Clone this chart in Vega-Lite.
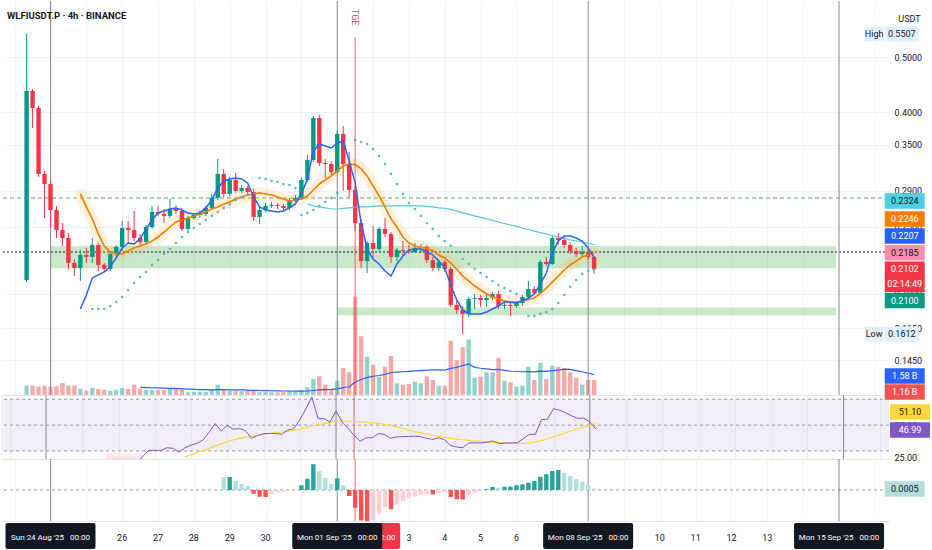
{
"$schema": "https://vega.github.io/schema/vega-lite/v6.json",
"background": "#ffffff",
"padding": 0,
"spacing": 0,
"bounds": "flush",
"config": {
  "view": {"stroke": null},
  "font": "Roboto",
  "text": {"font": "Roboto", "fontSize": 9},
  "axis": {"labelFont": "Roboto", "titleFont": "Roboto", "labelFontSize": 9, "labelColor": "#131722"},
  "axisX": {"grid": true, "gridColor": "#f0f3fa", "labels": false, "ticks": false, "domain": true, "domainColor": "#e0e3eb"},
  "axisY": {"grid": true, "gridColor": "#f0f3fa", "ticks": false, "domain": false, "labelAlign": "left", "labelPadding": 5, "labelOverlap": false, "labelFlush": false}
},
"resolve": {"scale": {"y": "independent", "color": "independent"}},
"datasets": {
  "bars": [
{"t":"2025-08-23T08:00Z","o":0.2012,"h":0.5507,"l":0.1995,"c":0.436,"v":0.72},
{"t":"2025-08-23T12:00Z","o":0.436,"h":0.4396,"l":0.3747,"c":0.4067,"v":0.72},
{"t":"2025-08-23T16:00Z","o":0.4067,"h":0.4101,"l":0.3067,"c":0.3105,"v":0.67},
{"t":"2025-08-23T20:00Z","o":0.3105,"h":0.3143,"l":0.2593,"c":0.298,"v":0.72},
{"t":"2025-08-24T00:00Z","o":0.298,"h":0.3017,"l":0.2489,"c":0.2679,"v":0.64},
{"t":"2025-08-24T04:00Z","o":0.2679,"h":0.2724,"l":0.2389,"c":0.2469,"v":0.67},
{"t":"2025-08-24T08:00Z","o":0.2469,"h":0.254,"l":0.2313,"c":0.2389,"v":0.93},
{"t":"2025-08-24T12:00Z","o":0.2389,"h":0.2439,"l":0.2105,"c":0.2157,"v":0.72},
{"t":"2025-08-24T16:00Z","o":0.2157,"h":0.2192,"l":0.2045,"c":0.2113,"v":0.72},
{"t":"2025-08-24T20:00Z","o":0.2113,"h":0.2275,"l":0.2004,"c":0.2229,"v":0.47,"bl":0.1787,"ora":0.2861},
{"t":"2025-08-25T00:00Z","o":0.2229,"h":0.2294,"l":0.2157,"c":0.2211,"v":0.33,"bl":0.1892,"ora":0.2713},
{"t":"2025-08-25T04:00Z","o":0.2211,"h":0.2389,"l":0.2157,"c":0.2322,"v":0.54,"bl":0.2029,"ora":0.2583,"sar":0.1787},
{"t":"2025-08-25T08:00Z","o":0.2322,"h":0.2341,"l":0.2087,"c":0.214,"v":0.47,"bl":0.2054,"ora":0.2429,"sar":0.1787},
{"t":"2025-08-25T12:00Z","o":0.214,"h":0.2157,"l":0.2079,"c":0.2105,"v":0.41,"bl":0.2079,"ora":0.2313,"sar":0.1787},
{"t":"2025-08-25T16:00Z","o":0.2105,"h":0.2265,"l":0.2087,"c":0.2238,"v":0.33,"bl":0.2122,"ora":0.2256,"sar":0.1809,"rsi":18},
{"t":"2025-08-25T20:00Z","o":0.2238,"h":0.2322,"l":0.2211,"c":0.2303,"v":0.41,"bl":0.2202,"ora":0.2238,"sar":0.1839,"rsi":19.5},
{"t":"2025-08-26T00:00Z","o":0.2303,"h":0.2561,"l":0.2265,"c":0.2489,"v":0.54,"bl":0.2294,"ora":0.2238,"sar":0.1877,"rsi":22},
{"t":"2025-08-26T04:00Z","o":0.2489,"h":0.2561,"l":0.2331,"c":0.2469,"v":0.47,"bl":0.2341,"ora":0.2265,"sar":0.1931,"rsi":21},
{"t":"2025-08-26T08:00Z","o":0.2469,"h":0.2668,"l":0.236,"c":0.2389,"v":0.8,"bl":0.2331,"ora":0.2294,"sar":0.1987,"rsi":20},
{"t":"2025-08-26T12:00Z","o":0.2389,"h":0.2429,"l":0.2313,"c":0.235,"v":0.47,"vm":0.59,"bl":0.238,"ora":0.2313,"sar":0.2037,"rsi":21},
{"t":"2025-08-26T16:00Z","o":0.235,"h":0.252,"l":0.2331,"c":0.2499,"v":0.39,"vm":0.57,"bl":0.2479,"ora":0.2331,"sar":0.2079,"rsi":25.6},
{"t":"2025-08-26T20:00Z","o":0.2499,"h":0.2724,"l":0.2479,"c":0.2657,"v":0.39,"vm":0.56,"bl":0.2572,"ora":0.236,"sar":0.214,"rsi":30.5},
{"t":"2025-08-27T00:00Z","o":0.2657,"h":0.2724,"l":0.2615,"c":0.2636,"v":0.39,"vm":0.55,"bl":0.2647,"ora":0.2399,"sar":0.2183,"rsi":30.5},
{"t":"2025-08-27T04:00Z","o":0.2636,"h":0.269,"l":0.254,"c":0.2615,"v":0.39,"vm":0.53,"bl":0.2668,"ora":0.2448,"sar":0.2238,"rsi":30.4},
{"t":"2025-08-27T08:00Z","o":0.2615,"h":0.2803,"l":0.2593,"c":0.269,"v":0.47,"vm":0.52,"bl":0.269,"ora":0.2499,"sar":0.2284,"rsi":32.5},
{"t":"2025-08-27T12:00Z","o":0.269,"h":0.2735,"l":0.2636,"c":0.2668,"v":0.47,"vm":0.51,"bl":0.2702,"ora":0.2551,"sar":0.2341,"rsi":32.1},
{"t":"2025-08-27T16:00Z","o":0.2668,"h":0.2702,"l":0.2458,"c":0.2479,"v":0.41,"vm":0.48,"bl":0.2679,"ora":0.2572,"sar":0.2399,"rsi":29.2},
{"t":"2025-08-27T20:00Z","o":0.2479,"h":0.2615,"l":0.2458,"c":0.2593,"v":0.21,"vm":0.46,"bl":0.2647,"ora":0.2593,"sar":0.2448,"rsi":32.5,"rm":25.5},
{"t":"2025-08-28T00:00Z","o":0.2593,"h":0.2647,"l":0.2572,"c":0.2625,"v":0.26,"vm":0.44,"bl":0.2636,"ora":0.2615,"sar":0.2489,"rsi":34.5,"rm":27},
{"t":"2025-08-28T04:00Z","o":0.2625,"h":0.2668,"l":0.2593,"c":0.2636,"v":0.26,"vm":0.42,"bl":0.2647,"ora":0.2636,"sar":0.253,"rsi":36,"rm":28.8},
{"t":"2025-08-28T08:00Z","o":0.2636,"h":0.2724,"l":0.2615,"c":0.2702,"v":0.26,"vm":0.41,"bl":0.2702,"ora":0.2657,"sar":0.2572,"rsi":38.5,"rm":30.4},
{"t":"2025-08-28T12:00Z","o":0.2702,"h":0.2861,"l":0.2679,"c":0.2815,"v":0.39,"vm":0.4,"bl":0.2791,"ora":0.269,"sar":0.2615,"rsi":44.5,"rm":32},
{"t":"2025-08-28T16:00Z","o":0.2815,"h":0.3301,"l":0.2791,"c":0.3105,"v":0.8,"vm":0.41,"bl":0.2932,"ora":0.2713,"sar":0.2657,"rsi":51.2,"rm":33.8},
{"t":"2025-08-28T20:00Z","o":0.3105,"h":0.3169,"l":0.2826,"c":0.2861,"v":0.39,"vm":0.41,"bl":0.3017,"ora":0.2746,"sar":0.2702,"rsi":45.5,"rm":35.5,"m":0.0052},
{"t":"2025-08-29T00:00Z","o":0.2861,"h":0.3067,"l":0.2838,"c":0.3029,"v":0.33,"vm":0.4,"bl":0.3042,"ora":0.2768,"sar":0.2746,"rsi":49.8,"rm":37.2,"m":0.0052},
{"t":"2025-08-29T04:00Z","o":0.3029,"h":0.3117,"l":0.2873,"c":0.2896,"v":0.33,"vm":0.4,"bl":0.3054,"ora":0.2803,"sar":0.2791,"rsi":46.8,"rm":38.5,"m":0.0036},
{"t":"2025-08-29T08:00Z","o":0.2896,"h":0.2968,"l":0.2873,"c":0.2932,"v":0.29,"vm":0.39,"bl":0.3042,"ora":0.2826,"sar":0.2826,"rsi":47.3,"rm":39.7,"m":0.0025},
{"t":"2025-08-29T12:00Z","o":0.2932,"h":0.2956,"l":0.2861,"c":0.2884,"v":0.33,"vm":0.38,"bl":0.2992,"ora":0.2849,"sar":0.2851,"rsi":45.8,"rm":40.5,"m":0.0016},
{"t":"2025-08-29T16:00Z","o":0.2884,"h":0.292,"l":0.2561,"c":0.2604,"v":0.33,"vm":0.36,"bl":0.2826,"ora":0.2861,"rsi":39.8,"rm":41.2,"m":-0.0015},
{"t":"2025-08-29T20:00Z","o":0.2604,"h":0.2713,"l":0.253,"c":0.2679,"v":0.21,"vm":0.35,"bl":0.2713,"ora":0.2873,"sar":0.3054,"rsi":42,"rm":42,"m":-0.0027},
{"t":"2025-08-30T00:00Z","o":0.2679,"h":0.2757,"l":0.2657,"c":0.2724,"v":0.21,"vm":0.34,"bl":0.2679,"ora":0.2861,"sar":0.3042,"rsi":43.3,"rm":42.8,"m":-0.0028},
{"t":"2025-08-30T04:00Z","o":0.2724,"h":0.2768,"l":0.2702,"c":0.2735,"v":0.21,"vm":0.33,"bl":0.2668,"ora":0.2849,"sar":0.3017,"rsi":43.6,"rm":43.5,"m":-0.0016},
{"t":"2025-08-30T08:00Z","o":0.2735,"h":0.2757,"l":0.269,"c":0.2724,"v":0.21,"vm":0.32,"bl":0.2657,"ora":0.2826,"sar":0.3004,"rsi":43.5,"rm":44.1,"m":-0.001},
{"t":"2025-08-30T12:00Z","o":0.2724,"h":0.2746,"l":0.2679,"c":0.2702,"v":0.21,"vm":0.31,"bl":0.2668,"ora":0.2803,"sar":0.298,"rsi":42.9,"rm":44.6,"m":-0.0006},
{"t":"2025-08-30T16:00Z","o":0.2702,"h":0.2815,"l":0.2679,"c":0.2791,"v":0.33,"vm":0.31,"bl":0.2702,"ora":0.2779,"sar":0.2968,"rsi":46.2,"rm":45.2,"m":-0.0003},
{"t":"2025-08-30T20:00Z","o":0.2791,"h":0.2849,"l":0.2768,"c":0.2815,"v":0.29,"vm":0.3,"bl":0.2746,"ora":0.2791,"sar":0.2932,"rsi":47.2,"rm":46,"m":-0.0001},
{"t":"2025-08-31T00:00Z","o":0.2815,"h":0.3067,"l":0.2791,"c":0.3029,"v":0.39,"vm":0.3,"bl":0.2861,"ora":0.2803,"sar":0.2625,"rsi":54,"rm":46.8,"m":0.0019},
{"t":"2025-08-31T04:00Z","o":0.3029,"h":0.3356,"l":0.3004,"c":0.3287,"v":0.6,"vm":0.31,"bl":0.3042,"ora":0.2838,"cy":0.2746,"sar":0.2647,"rsi":62.5,"rm":48,"m":0.0045},
{"t":"2025-08-31T08:00Z","o":0.3287,"h":0.3936,"l":0.3261,"c":0.3904,"v":1.24,"vm":0.35,"bl":0.3411,"ora":0.2908,"cy":0.2724,"sar":0.2679,"rsi":71.8,"rm":49.5,"m":0.0103},
{"t":"2025-08-31T12:00Z","o":0.3904,"h":0.3953,"l":0.3208,"c":0.3247,"v":1.45,"vm":0.4,"bl":0.351,"ora":0.298,"cy":0.2713,"sar":0.2724,"rsi":55.3,"rm":50.3,"m":0.0076},
{"t":"2025-08-31T16:00Z","o":0.3247,"h":0.3301,"l":0.3054,"c":0.3234,"v":0.8,"vm":0.42,"bl":0.3482,"ora":0.3029,"cy":0.2702,"sar":0.2768,"rsi":55,"rm":51.2,"m":0.0049},
{"t":"2025-08-31T20:00Z","o":0.3234,"h":0.3274,"l":0.308,"c":0.313,"v":0.47,"vm":0.43,"bl":0.3453,"ora":0.308,"cy":0.269,"sar":0.2815,"rsi":52.4,"rm":52,"m":0.0025},
{"t":"2025-09-01T00:00Z","o":0.313,"h":0.3701,"l":0.3105,"c":0.3657,"v":1.11,"vm":0.48,"bl":0.3524,"ora":0.3143,"cy":0.269,"sar":0.2873,"rsi":61,"rm":52.8,"m":0.0047},
{"t":"2025-09-01T04:00Z","o":0.3657,"h":0.3779,"l":0.2896,"c":0.3234,"v":2.09,"vm":0.57,"bl":0.3553,"ora":0.3208,"cy":0.2696,"rsi":52.5,"rm":53.2,"m":0.0019},
{"t":"2025-09-01T08:00Z","o":0.3234,"h":0.3397,"l":0.2815,"c":0.2908,"v":1.76,"vm":0.64,"bl":0.3274,"ora":0.3234,"cy":0.2702,"rsi":47.5,"rm":53.1,"m":-0.0024},
{"t":"2025-09-01T12:00Z","o":0.2908,"h":0.2956,"l":0.2458,"c":0.254,"v":7.62,"vm":0.99,"bl":0.2992,"ora":0.3227,"cy":0.2707,"sar":0.3568,"rsi":42,"rm":52.8,"m":-0.0071},
{"t":"2025-09-01T16:00Z","o":0.254,"h":0.2583,"l":0.2113,"c":0.2174,"v":4.55,"vm":1.2,"bl":0.254,"ora":0.3169,"cy":0.2713,"sar":0.3539,"rsi":37.5,"rm":52.5,"m":-0.0122},
{"t":"2025-09-01T20:00Z","o":0.2174,"h":0.236,"l":0.207,"c":0.2341,"v":2.97,"vm":1.34,"bl":0.2284,"ora":0.308,"cy":0.2713,"sar":0.351,"rsi":40.3,"rm":52.2,"m":-0.0124},
{"t":"2025-09-02T00:00Z","o":0.2341,"h":0.251,"l":0.2192,"c":0.2284,"v":2.35,"vm":1.45,"bl":0.2192,"ora":0.2956,"cy":0.2718,"sar":0.3439,"rsi":40.2,"rm":51.8,"m":-0.0121},
{"t":"2025-09-02T04:00Z","o":0.2284,"h":0.2499,"l":0.2265,"c":0.2479,"v":1.42,"vm":1.51,"bl":0.2148,"ora":0.2838,"cy":0.2724,"sar":0.3342,"rsi":43.4,"rm":51.3,"m":-0.0095},
{"t":"2025-09-02T08:00Z","o":0.2479,"h":0.2593,"l":0.2399,"c":0.2429,"v":2.19,"vm":1.6,"bl":0.2087,"ora":0.2713,"cy":0.2724,"sar":0.3234,"rsi":42.9,"rm":50.6,"m":-0.0068},
{"t":"2025-09-02T12:00Z","o":0.2429,"h":0.2448,"l":0.2157,"c":0.2211,"v":3.02,"vm":1.74,"bl":0.2045,"ora":0.2583,"cy":0.2724,"sar":0.3105,"rsi":39.8,"rm":49.8,"m":-0.0077},
{"t":"2025-09-02T16:00Z","o":0.2211,"h":0.2294,"l":0.2174,"c":0.2275,"v":0.91,"vm":1.77,"bl":0.2148,"ora":0.2499,"cy":0.2724,"sar":0.298,"rsi":40.9,"rm":48.6,"m":-0.0057},
{"t":"2025-09-02T20:00Z","o":0.2275,"h":0.236,"l":0.2211,"c":0.2265,"v":0.78,"vm":1.8,"bl":0.222,"ora":0.2399,"cy":0.2724,"sar":0.2861,"rsi":41.1,"rm":47.4,"m":-0.0044},
{"t":"2025-09-03T00:00Z","o":0.2265,"h":0.2322,"l":0.2238,"c":0.2256,"v":0.85,"vm":1.83,"bl":0.2275,"ora":0.2341,"cy":0.2724,"sar":0.2757,"rsi":41.2,"rm":46.2,"m":-0.0033},
{"t":"2025-09-03T04:00Z","o":0.2256,"h":0.2341,"l":0.2247,"c":0.2294,"v":1.03,"vm":1.86,"bl":0.2284,"ora":0.2313,"cy":0.2724,"sar":0.269,"rsi":41.4,"rm":45,"m":-0.0027},
{"t":"2025-09-03T08:00Z","o":0.2294,"h":0.2331,"l":0.2247,"c":0.2303,"v":0.91,"vm":1.89,"bl":0.2284,"ora":0.2298,"cy":0.2724,"sar":0.2615,"rsi":41.2,"rm":44,"m":-0.002},
{"t":"2025-09-03T12:00Z","o":0.2303,"h":0.2322,"l":0.2157,"c":0.2183,"v":1.45,"vm":1.93,"bl":0.2256,"ora":0.2289,"cy":0.2718,"sar":0.254,"rsi":39.8,"rm":43,"m":-0.0017},
{"t":"2025-09-03T16:00Z","o":0.2183,"h":0.2211,"l":0.2087,"c":0.2113,"v":1.16,"vm":1.95,"bl":0.2229,"ora":0.227,"cy":0.2713,"sar":0.2479,"rsi":39,"rm":42,"m":-0.0018},
{"t":"2025-09-03T20:00Z","o":0.2113,"h":0.2183,"l":0.2087,"c":0.2166,"v":0.72,"vm":1.94,"bl":0.2174,"ora":0.2229,"cy":0.2702,"sar":0.2409,"rsi":40.3,"rm":41.2,"m":-0.0013},
{"t":"2025-09-04T00:00Z","o":0.2166,"h":0.2183,"l":0.2079,"c":0.2105,"v":0.72,"vm":1.92,"bl":0.2113,"ora":0.2202,"cy":0.2696,"sar":0.236,"rsi":38.5,"rm":40.5,"m":-0.0009},
{"t":"2025-09-04T04:00Z","o":0.2105,"h":0.2122,"l":0.1802,"c":0.1817,"v":4.21,"vm":2.06,"bl":0.1971,"ora":0.2157,"cy":0.2685,"sar":0.2313,"rsi":34.2,"rm":39.8,"m":-0.0028},
{"t":"2025-09-04T08:00Z","o":0.1817,"h":0.1846,"l":0.1751,"c":0.178,"v":2.71,"vm":2.14,"bl":0.1854,"ora":0.2105,"cy":0.2668,"sar":0.2256,"rsi":33,"rm":39.2,"m":-0.0037},
{"t":"2025-09-04T12:00Z","o":0.178,"h":0.1809,"l":0.1612,"c":0.1751,"v":3.7,"vm":2.28,"bl":0.178,"ora":0.2045,"cy":0.2647,"sar":0.2192,"rsi":32.6,"rm":38.7,"m":-0.0038},
{"t":"2025-09-04T16:00Z","o":0.1751,"h":0.1877,"l":0.173,"c":0.1862,"v":4.29,"vm":2.4,"bl":0.1751,"ora":0.2004,"cy":0.2631,"sar":0.2148,"rsi":36.2,"rm":38.2,"m":-0.002},
{"t":"2025-09-04T20:00Z","o":0.1862,"h":0.19,"l":0.1787,"c":0.1869,"v":1.32,"vm":2.14,"bl":0.1751,"ora":0.1963,"cy":0.2615,"sar":0.2105,"rsi":36.3,"rm":37.8,"m":-0.0011},
{"t":"2025-09-05T00:00Z","o":0.1869,"h":0.1892,"l":0.1802,"c":0.1854,"v":1.42,"vm":2.07,"bl":0.1751,"ora":0.1931,"cy":0.2599,"sar":0.207,"rsi":36.2,"rm":37.4,"m":-0.0004},
{"t":"2025-09-05T04:00Z","o":0.1854,"h":0.1908,"l":0.1802,"c":0.1869,"v":1.76,"vm":2.02,"bl":0.1765,"ora":0.19,"cy":0.2583,"sar":0.2037,"rsi":36.8,"rm":37.1,"m":0.0003},
{"t":"2025-09-05T08:00Z","o":0.1869,"h":0.1915,"l":0.1854,"c":0.19,"v":1.76,"vm":1.97,"bl":0.1787,"ora":0.1877,"cy":0.2567,"sar":0.2004,"rsi":37.7,"rm":36.8,"m":0.0012},
{"t":"2025-09-05T12:00Z","o":0.19,"h":0.1923,"l":0.1787,"c":0.1809,"v":2.87,"vm":1.98,"bl":0.1809,"ora":0.1862,"cy":0.2551,"sar":0.1971,"rsi":35.8,"rm":36.5,"m":0.0009},
{"t":"2025-09-05T16:00Z","o":0.1809,"h":0.1839,"l":0.1787,"c":0.1817,"v":1.11,"vm":1.91,"bl":0.1839,"ora":0.1846,"cy":0.2535,"sar":0.1947,"rsi":36.1,"rm":36.3,"m":0.0013},
{"t":"2025-09-05T20:00Z","o":0.1817,"h":0.1839,"l":0.1737,"c":0.1809,"v":0.98,"vm":1.84,"bl":0.1839,"ora":0.1839,"cy":0.252,"sar":0.1923,"rsi":36.2,"rm":36,"m":0.0014},
{"t":"2025-09-06T00:00Z","o":0.1809,"h":0.1846,"l":0.1794,"c":0.1831,"v":0.64,"vm":1.82,"bl":0.1831,"ora":0.1839,"cy":0.2505,"sar":0.19,"rsi":36.4,"rm":35.9,"m":0.0019},
{"t":"2025-09-06T04:00Z","o":0.1831,"h":0.1892,"l":0.1809,"c":0.1877,"v":0.72,"vm":1.8,"bl":0.1846,"ora":0.1846,"cy":0.2489,"rsi":39.5,"rm":35.9,"m":0.0023},
{"t":"2025-09-06T08:00Z","o":0.1877,"h":0.2004,"l":0.1862,"c":0.1939,"v":2.19,"vm":1.81,"bl":0.1869,"ora":0.1858,"cy":0.2474,"sar":0.1737,"rsi":42.8,"rm":36.2,"m":0.0029},
{"t":"2025-09-06T12:00Z","o":0.1939,"h":0.1963,"l":0.1892,"c":0.1908,"v":1.16,"vm":1.79,"bl":0.19,"ora":0.1869,"cy":0.2458,"sar":0.1737,"rsi":42.9,"rm":36.8,"m":0.0036},
{"t":"2025-09-06T16:00Z","o":0.1908,"h":0.2183,"l":0.19,"c":0.2166,"v":2.48,"vm":1.85,"bl":0.1979,"ora":0.1904,"cy":0.2443,"sar":0.1751,"rsi":54.3,"rm":38,"m":0.0053},
{"t":"2025-09-06T20:00Z","o":0.2166,"h":0.2211,"l":0.2131,"c":0.2148,"v":1.24,"vm":1.83,"bl":0.207,"ora":0.1947,"cy":0.2429,"sar":0.1765,"rsi":54.6,"rm":39.5,"m":0.0063},
{"t":"2025-09-07T00:00Z","o":0.2148,"h":0.2409,"l":0.214,"c":0.2389,"v":2.27,"vm":1.88,"bl":0.2247,"ora":0.1995,"cy":0.2414,"sar":0.1787,"rsi":62.7,"rm":41,"m":0.0076},
{"t":"2025-09-07T04:00Z","o":0.2389,"h":0.2439,"l":0.2322,"c":0.237,"v":2.19,"vm":1.92,"bl":0.236,"ora":0.2045,"cy":0.2399,"sar":0.1831,"rsi":61.6,"rm":42.5,"m":0.008},
{"t":"2025-09-07T08:00Z","o":0.237,"h":0.2409,"l":0.2294,"c":0.2322,"v":2.09,"vm":2,"bl":0.2409,"ora":0.2096,"cy":0.2385,"sar":0.1892,"rsi":59.5,"rm":44,"m":0.0069},
{"t":"2025-09-07T12:00Z","o":0.2322,"h":0.235,"l":0.2238,"c":0.2265,"v":1.76,"vm":1.98,"bl":0.2409,"ora":0.214,"cy":0.237,"sar":0.1955,"rsi":57.2,"rm":45.5,"m":0.0056},
{"t":"2025-09-07T16:00Z","o":0.2265,"h":0.2294,"l":0.2211,"c":0.2238,"v":1.32,"vm":1.89,"bl":0.2389,"ora":0.2174,"cy":0.236,"sar":0.2012,"rsi":55.3,"rm":47,"m":0.0043},
{"t":"2025-09-07T20:00Z","o":0.2238,"h":0.2313,"l":0.222,"c":0.2256,"v":0.8,"vm":1.8,"bl":0.236,"ora":0.2211,"cy":0.235,"sar":0.2062,"rsi":55.4,"rm":48.5,"m":0.0033},
{"t":"2025-09-08T00:00Z","o":0.2256,"h":0.2275,"l":0.2183,"c":0.2211,"v":1.16,"vm":1.7,"bl":0.2294,"ora":0.2229,"cy":0.2341,"sar":0.2087,"rsi":52.5,"rm":49.8,"m":0.002},
{"t":"2025-09-08T04:00Z","o":0.2211,"h":0.222,"l":0.2062,"c":0.2102,"v":1.16,"vm":1.58,"bl":0.2207,"ora":0.2246,"cy":0.2324,"sar":0.21,"rsi":46.99,"rm":51.1,"m":0.0005}
  ],
  "zones": [
    {"t": "2025-08-24T00:00Z", "t2": "2025-09-14T22:00Z", "lo": 0.211, "hi": 0.2312},
    {"t": "2025-09-01T00:00Z", "t2": "2025-09-14T22:00Z", "lo": 0.1742, "hi": 0.1797}
  ],
  "levels": [
    {"name": "res", "p": 0.2814},
    {"name": "pivot", "p": 0.2256}
  ],
  "vlines": [
    {"t": "2025-08-24T00:00Z", "lab": "Sun 24 Aug '25\u00a0\u00a0\u00a000:00"},
    {"t": "2025-09-01T00:00Z", "lab": "Mon 01 Sep '25\u00a0\u00a0\u00a000:00"},
    {"t": "2025-09-08T00:00Z", "lab": "Mon 08 Sep '25\u00a0\u00a0\u00a000:00"},
    {"t": "2025-09-15T00:00Z", "lab": "Mon 15 Sep '25\u00a0\u00a0\u00a000:00"}
  ],
  "tge": [
    {"t": "2025-09-01T12:00Z", "name": "TGE", "lab": "Mon 01 Sep '25\u00a0\u00a0\u00a012:00"}
  ],
  "days": [
    {"t":"2025-08-26T00:00Z","d":"26"},{"t":"2025-08-27T00:00Z","d":"27"},{"t":"2025-08-28T00:00Z","d":"28"},
    {"t":"2025-08-29T00:00Z","d":"29"},{"t":"2025-08-30T00:00Z","d":"30"},
    {"t":"2025-09-03T00:00Z","d":"3"},{"t":"2025-09-04T00:00Z","d":"4"},{"t":"2025-09-05T00:00Z","d":"5"},
    {"t":"2025-09-06T00:00Z","d":"6"},
    {"t":"2025-09-10T00:00Z","d":"10"},{"t":"2025-09-11T00:00Z","d":"11"},{"t":"2025-09-12T00:00Z","d":"12"},
    {"t":"2025-09-13T00:00Z","d":"13"}
  ],
  "ptags": [
    {"s": "ma200", "txt": "0.2324", "at": 0.2779},
    {"s": "ema", "txt": "0.2246", "at": 0.2583},
    {"s": "fast", "txt": "0.2207", "at": 0.2409},
    {"s": "prev", "txt": "0.2185", "at": 0.225},
    {"s": "last", "txt": "0.2102", "at": 0.2102},
    {"s": "last", "txt": "02:14:49", "at": 0.1977},
    {"s": "sar", "txt": "0.2100", "at": 0.185}
  ],
  "hl": [
    {"name": "High", "price": 0.5507},
    {"name": "Low", "price": 0.1612}
  ],
  "vtags": [
    {"s": "vma", "txt": "1.58 B", "at": 1.47},
    {"s": "vol", "txt": "1.16 B", "at": 0.23}
  ],
  "rtags": [
    {"s": "rsima", "txt": "51.10", "at": 60.2},
    {"s": "rsi", "txt": "46.99", "at": 46.3}
  ],
  "mtags": [
    {"s": "macd", "txt": "0.0005", "at": 0.0004}
  ],
  "rsilv": [{"lvl": 70}, {"lvl": 50}, {"lvl": 30}]
},
"vconcat": [
{
  "width": 888, "height": 394,
  "title": {"text": "WLFIUSDT.P · 4h · BINANCE", "anchor": "start", "frame": "group", "offset": -20, "dx": 6, "fontSize": 9.5, "fontWeight": "bold", "color": "#131722", "font": "Roboto"},
  "resolve": {"scale": {"y": "independent"}},
  "layer": [
    {"layer": [
      {"data": {"name": "bars"},
       "mark": {"type": "bar", "size": 4.4},
       "encoding": {
         "x": {"field": "t", "type": "temporal", "scale": {"type": "utc", "domain": [{"year":2025,"month":8,"date":22,"hours":18,"minutes":12,"utc":true},{"year":2025,"month":9,"date":16,"hours":6,"minutes":7,"utc":true}]}},
         "y": {"field": "v", "type": "quantitative", "scale": {"domain": [0, 30.5], "nice": false}, "axis": null},
         "color": {"condition": {"test": "datum.c >= datum.o", "value": "rgba(38,166,154,0.5)"}, "value": "rgba(239,83,80,0.5)"}
       }},
      {"data": {"name": "bars"},
       "mark": {"type": "line", "color": "#2962ff", "strokeWidth": 1.2},
       "encoding": {
         "x": {"field": "t", "type": "temporal", "scale": {"type": "utc", "domain": [{"year":2025,"month":8,"date":22,"hours":18,"minutes":12,"utc":true},{"year":2025,"month":9,"date":16,"hours":6,"minutes":7,"utc":true}]}},
         "y": {"field": "vm", "type": "quantitative", "scale": {"domain": [0, 30.5], "nice": false}, "axis": null}
       }},
      {"data": {"name": "vtags"},
       "mark": {"type": "tick", "orient": "horizontal", "size": 40, "thickness": 15.5, "opacity": 1},
       "encoding": {
         "x": {"datum": {"year":2025,"month":9,"date":16,"hours":20,"utc":true}, "type": "temporal", "scale": {"type": "utc", "domain": [{"year":2025,"month":8,"date":22,"hours":18,"minutes":12,"utc":true},{"year":2025,"month":9,"date":16,"hours":6,"minutes":7,"utc":true}]}},
         "y": {"field": "at", "type": "quantitative", "scale": {"domain": [0, 30.5], "nice": false}, "axis": null},
         "color": {"field": "s", "type": "nominal", "legend": null, "scale": {"domain": ["ma200","ema","fast","prev","last","sar","vma","vol","rsima","rsi","macd"], "range": ["#4dd0e1","#f57c00","#2962ff","#f48fb1","#f23645","#089981","#2962ff","#ef5350","#fdd835","#7e57c2","#b2dfdb"]}}
       }},
      {"data": {"name": "vtags"},
       "mark": {"type": "text", "fontSize": 9},
       "encoding": {
         "x": {"datum": {"year":2025,"month":9,"date":16,"hours":20,"utc":true}, "type": "temporal", "scale": {"type": "utc", "domain": [{"year":2025,"month":8,"date":22,"hours":18,"minutes":12,"utc":true},{"year":2025,"month":9,"date":16,"hours":6,"minutes":7,"utc":true}]}},
         "y": {"field": "at", "type": "quantitative", "scale": {"domain": [0, 30.5], "nice": false}, "axis": null},
         "text": {"field": "txt", "type": "nominal"},
         "color": {"condition": {"test": "indexof(['ma200','prev','rsima','macd'], datum.s) >= 0", "value": "#131722"}, "value": "#ffffff"}
       }}
    ]},
    {"layer": [
      {"data": {"name": "zones"},
       "mark": {"type": "rect", "color": "#4caf50", "opacity": 0.3},
       "encoding": {
         "x": {"field": "t", "type": "temporal", "title": null, "scale": {"type": "utc", "domain": [{"year":2025,"month":8,"date":22,"hours":18,"minutes":12,"utc":true},{"year":2025,"month":9,"date":16,"hours":6,"minutes":7,"utc":true}]}, "axis": {"tickCount": {"interval": "day", "step": 1}, "grid": true, "labels": false, "ticks": false, "domain": true}},
         "x2": {"field": "t2"},
         "y": {"field": "lo", "type": "quantitative", "scale": {"type": "log", "domain": [0.12568, 0.63], "nice": false},
               "axis": {"orient": "right", "grid": true, "values": [0.145, 0.165, 0.19, 0.25, 0.29, 0.35, 0.4, 0.5], "format": ".4f", "title": "USDT", "titleAngle": 0, "titleX": 20, "titleY": 17, "titleAlign": "center", "titleBaseline": "middle", "titleFontSize": 9, "titleFontWeight": "normal", "titleColor": "#131722"}},
         "y2": {"field": "hi"}
       }},
      {"data": {"name": "levels"},
       "transform": [{"filter": "datum.name == 'res'"}],
       "mark": {"type": "rule", "color": "#4caf50", "strokeDash": [4, 3], "strokeWidth": 1},
       "encoding": {"y": {"field": "p", "type": "quantitative", "scale": {"type": "log", "domain": [0.12568, 0.63], "nice": false}}}},
      {"data": {"name": "levels"},
       "transform": [{"filter": "datum.name == 'pivot'"}],
       "mark": {"type": "rule", "color": "#131722", "strokeDash": [2, 2], "strokeWidth": 1.2},
       "encoding": {"y": {"field": "p", "type": "quantitative", "scale": {"type": "log", "domain": [0.12568, 0.63], "nice": false}}}},
      {"data": {"name": "vlines"},
       "mark": {"type": "rule", "color": "#8a8d96", "strokeWidth": 1},
       "encoding": {"x": {"field": "t", "type": "temporal", "scale": {"type": "utc", "domain": [{"year":2025,"month":8,"date":22,"hours":18,"minutes":12,"utc":true},{"year":2025,"month":9,"date":16,"hours":6,"minutes":7,"utc":true}]}}}},
      {"data": {"name": "bars"},
       "mark": {"type": "line", "color": "#ffb74d", "strokeWidth": 12, "opacity": 0.2, "strokeCap": "round", "strokeJoin": "round"},
       "encoding": {
         "x": {"field": "t", "type": "temporal", "scale": {"type": "utc", "domain": [{"year":2025,"month":8,"date":22,"hours":18,"minutes":12,"utc":true},{"year":2025,"month":9,"date":16,"hours":6,"minutes":7,"utc":true}]}},
         "y": {"field": "ora", "type": "quantitative", "scale": {"type": "log", "domain": [0.12568, 0.63], "nice": false}}
       }},
      {"data": {"name": "bars"},
       "mark": {"type": "rule", "strokeWidth": 1},
       "encoding": {
         "x": {"field": "t", "type": "temporal", "scale": {"type": "utc", "domain": [{"year":2025,"month":8,"date":22,"hours":18,"minutes":12,"utc":true},{"year":2025,"month":9,"date":16,"hours":6,"minutes":7,"utc":true}]}},
         "y": {"field": "l", "type": "quantitative", "scale": {"type": "log", "domain": [0.12568, 0.63], "nice": false}},
         "y2": {"field": "h"},
         "color": {"condition": {"test": "datum.c >= datum.o", "value": "#089981"}, "value": "#f23645"}
       }},
      {"data": {"name": "bars"},
       "mark": {"type": "bar", "size": 4.4},
       "encoding": {
         "x": {"field": "t", "type": "temporal", "scale": {"type": "utc", "domain": [{"year":2025,"month":8,"date":22,"hours":18,"minutes":12,"utc":true},{"year":2025,"month":9,"date":16,"hours":6,"minutes":7,"utc":true}]}},
         "y": {"field": "o", "type": "quantitative", "scale": {"type": "log", "domain": [0.12568, 0.63], "nice": false}},
         "y2": {"field": "c"},
         "color": {"condition": {"test": "datum.c >= datum.o", "value": "#089981"}, "value": "#f23645"}
       }},
      {"data": {"name": "bars"},
       "mark": {"type": "line", "color": "#56c5dd", "strokeWidth": 1.2},
       "encoding": {
         "x": {"field": "t", "type": "temporal", "scale": {"type": "utc", "domain": [{"year":2025,"month":8,"date":22,"hours":18,"minutes":12,"utc":true},{"year":2025,"month":9,"date":16,"hours":6,"minutes":7,"utc":true}]}},
         "y": {"field": "cy", "type": "quantitative", "scale": {"type": "log", "domain": [0.12568, 0.63], "nice": false}}
       }},
      {"data": {"name": "bars"},
       "mark": {"type": "line", "color": "#f57c00", "strokeWidth": 1.6},
       "encoding": {
         "x": {"field": "t", "type": "temporal", "scale": {"type": "utc", "domain": [{"year":2025,"month":8,"date":22,"hours":18,"minutes":12,"utc":true},{"year":2025,"month":9,"date":16,"hours":6,"minutes":7,"utc":true}]}},
         "y": {"field": "ora", "type": "quantitative", "scale": {"type": "log", "domain": [0.12568, 0.63], "nice": false}}
       }},
      {"data": {"name": "bars"},
       "mark": {"type": "line", "color": "#2962ff", "strokeWidth": 1.5},
       "encoding": {
         "x": {"field": "t", "type": "temporal", "scale": {"type": "utc", "domain": [{"year":2025,"month":8,"date":22,"hours":18,"minutes":12,"utc":true},{"year":2025,"month":9,"date":16,"hours":6,"minutes":7,"utc":true}]}},
         "y": {"field": "bl", "type": "quantitative", "scale": {"type": "log", "domain": [0.12568, 0.63], "nice": false}}
       }},
      {"data": {"name": "bars"},
       "mark": {"type": "circle", "size": 7, "color": "#4db6ac", "opacity": 0.9},
       "encoding": {
         "x": {"field": "t", "type": "temporal", "scale": {"type": "utc", "domain": [{"year":2025,"month":8,"date":22,"hours":18,"minutes":12,"utc":true},{"year":2025,"month":9,"date":16,"hours":6,"minutes":7,"utc":true}]}},
         "y": {"field": "sar", "type": "quantitative", "scale": {"type": "log", "domain": [0.12568, 0.63], "nice": false}}
       }},
      {"data": {"name": "tge"},
       "mark": {"type": "rule", "color": "#f23645", "opacity": 0.5, "strokeWidth": 1.5},
       "encoding": {
         "x": {"field": "t", "type": "temporal", "scale": {"type": "utc", "domain": [{"year":2025,"month":8,"date":22,"hours":18,"minutes":12,"utc":true},{"year":2025,"month":9,"date":16,"hours":6,"minutes":7,"utc":true}]}},
         "y": {"datum": 0.5437, "type": "quantitative", "scale": {"type": "log", "domain": [0.12568, 0.63], "nice": false}},
         "y2": {"datum": 0.12568}
       }},
      {"data": {"name": "tge"},
       "mark": {"type": "text", "angle": 90, "align": "left", "baseline": "middle", "color": "#f23645", "fontSize": 9},
       "encoding": {
         "x": {"field": "t", "type": "temporal", "scale": {"type": "utc", "domain": [{"year":2025,"month":8,"date":22,"hours":18,"minutes":12,"utc":true},{"year":2025,"month":9,"date":16,"hours":6,"minutes":7,"utc":true}]}},
         "y": {"datum": 0.61, "type": "quantitative", "scale": {"type": "log", "domain": [0.12568, 0.63], "nice": false}},
         "text": {"field": "name", "type": "nominal"}
       }},
      {"data": {"name": "ptags"},
       "mark": {"type": "tick", "orient": "horizontal", "size": 40, "thickness": 15.5, "opacity": 1},
       "encoding": {
         "x": {"datum": {"year":2025,"month":9,"date":16,"hours":20,"utc":true}, "type": "temporal", "scale": {"type": "utc", "domain": [{"year":2025,"month":8,"date":22,"hours":18,"minutes":12,"utc":true},{"year":2025,"month":9,"date":16,"hours":6,"minutes":7,"utc":true}]}},
         "y": {"field": "at", "type": "quantitative", "scale": {"type": "log", "domain": [0.12568, 0.63], "nice": false}},
         "color": {"field": "s", "type": "nominal", "legend": null, "scale": {"domain": ["ma200","ema","fast","prev","last","sar","vma","vol","rsima","rsi","macd"], "range": ["#4dd0e1","#f57c00","#2962ff","#f48fb1","#f23645","#089981","#2962ff","#ef5350","#fdd835","#7e57c2","#b2dfdb"]}}
       }},
      {"data": {"name": "ptags"},
       "mark": {"type": "text", "fontSize": 9},
       "encoding": {
         "x": {"datum": {"year":2025,"month":9,"date":16,"hours":20,"utc":true}, "type": "temporal", "scale": {"type": "utc", "domain": [{"year":2025,"month":8,"date":22,"hours":18,"minutes":12,"utc":true},{"year":2025,"month":9,"date":16,"hours":6,"minutes":7,"utc":true}]}},
         "y": {"field": "at", "type": "quantitative", "scale": {"type": "log", "domain": [0.12568, 0.63], "nice": false}},
         "text": {"field": "txt", "type": "nominal"},
         "color": {"condition": {"test": "indexof(['ma200','prev','rsima','macd'], datum.s) >= 0", "value": "#131722"}, "value": "#ffffff"}
       }},
      {"data": {"name": "hl"},
       "mark": {"type": "tick", "orient": "horizontal", "size": 19, "thickness": 15, "opacity": 1, "color": "#e3effd"},
       "encoding": {
         "x": {"datum": {"year":2025,"month":9,"date":15,"hours":23,"minutes":30,"utc":true}, "type": "temporal", "scale": {"type": "utc", "domain": [{"year":2025,"month":8,"date":22,"hours":18,"minutes":12,"utc":true},{"year":2025,"month":9,"date":16,"hours":6,"minutes":7,"utc":true}]}},
         "y": {"field": "price", "type": "quantitative", "scale": {"type": "log", "domain": [0.12568, 0.63], "nice": false}}
       }},
      {"data": {"name": "hl"},
       "mark": {"type": "text", "fontSize": 9, "color": "#131722"},
       "encoding": {
         "x": {"datum": {"year":2025,"month":9,"date":15,"hours":23,"minutes":30,"utc":true}, "type": "temporal", "scale": {"type": "utc", "domain": [{"year":2025,"month":8,"date":22,"hours":18,"minutes":12,"utc":true},{"year":2025,"month":9,"date":16,"hours":6,"minutes":7,"utc":true}]}},
         "y": {"field": "price", "type": "quantitative", "scale": {"type": "log", "domain": [0.12568, 0.63], "nice": false}},
         "text": {"field": "name", "type": "nominal"}
       }},
      {"data": {"name": "hl"},
       "mark": {"type": "tick", "orient": "horizontal", "size": 34, "thickness": 15, "opacity": 1, "color": "#e3effd"},
       "encoding": {
         "x": {"datum": {"year":2025,"month":9,"date":16,"hours":18,"utc":true}, "type": "temporal", "scale": {"type": "utc", "domain": [{"year":2025,"month":8,"date":22,"hours":18,"minutes":12,"utc":true},{"year":2025,"month":9,"date":16,"hours":6,"minutes":7,"utc":true}]}},
         "y": {"field": "price", "type": "quantitative", "scale": {"type": "log", "domain": [0.12568, 0.63], "nice": false}}
       }},
      {"data": {"name": "hl"},
       "mark": {"type": "text", "fontSize": 9, "color": "#131722"},
       "encoding": {
         "x": {"datum": {"year":2025,"month":9,"date":16,"hours":18,"utc":true}, "type": "temporal", "scale": {"type": "utc", "domain": [{"year":2025,"month":8,"date":22,"hours":18,"minutes":12,"utc":true},{"year":2025,"month":9,"date":16,"hours":6,"minutes":7,"utc":true}]}},
         "y": {"field": "price", "type": "quantitative", "scale": {"type": "log", "domain": [0.12568, 0.63], "nice": false}},
         "text": {"field": "price", "type": "quantitative", "format": ".4f"}
       }}
    ]}
  ]
},
{
  "width": 888, "height": 64,
  "layer": [
    {"data": {"values": [{}]},
     "mark": {"type": "rect", "color": "#7e57c2", "opacity": 0.1},
     "encoding": {
       "x": {"datum": {"year":2025,"month":8,"date":22,"hours":18,"minutes":12,"utc":true}, "type": "temporal", "scale": {"type": "utc", "domain": [{"year":2025,"month":8,"date":22,"hours":18,"minutes":12,"utc":true},{"year":2025,"month":9,"date":16,"hours":6,"minutes":7,"utc":true}]}},
       "x2": {"datum": {"year":2025,"month":9,"date":16,"hours":6,"minutes":7,"utc":true}},
       "y": {"datum": 70, "type": "quantitative", "scale": {"domain": [23.8, 73.3], "nice": false, "zero": false}},
       "y2": {"datum": 30}
     }},
    {"data": {"name": "rsilv"},
     "mark": {"type": "rule", "color": "#9598a1", "strokeDash": [3, 3], "strokeWidth": 1},
     "encoding": {"y": {"field": "lvl", "type": "quantitative", "scale": {"domain": [23.8, 73.3], "nice": false, "zero": false}}}},
    {"data": {"name": "vlines"},
     "mark": {"type": "rule", "color": "#8a8d96", "strokeWidth": 1},
     "encoding": {"x": {"field": "t", "type": "temporal", "scale": {"type": "utc", "domain": [{"year":2025,"month":8,"date":22,"hours":18,"minutes":12,"utc":true},{"year":2025,"month":9,"date":16,"hours":6,"minutes":7,"utc":true}]}}}},
    {"data": {"name": "tge"},
     "mark": {"type": "rule", "color": "#f23645", "opacity": 0.5, "strokeWidth": 1.5},
     "encoding": {"x": {"field": "t", "type": "temporal", "scale": {"type": "utc", "domain": [{"year":2025,"month":8,"date":22,"hours":18,"minutes":12,"utc":true},{"year":2025,"month":9,"date":16,"hours":6,"minutes":7,"utc":true}]}}}},
    {"data": {"name": "bars"},
     "transform": [{"filter": "isValid(datum.rsi) && datum.rsi < 28"}],
     "mark": {"type": "area", "clip": true, "color": {"gradient": "linear", "x1": 0, "y1": 0, "x2": 0, "y2": 1, "stops": [{"offset": 0, "color": "rgba(242,54,69,0)"}, {"offset": 1, "color": "rgba(242,54,69,0.35)"}]}},
     "encoding": {
       "x": {"field": "t", "type": "temporal", "scale": {"type": "utc", "domain": [{"year":2025,"month":8,"date":22,"hours":18,"minutes":12,"utc":true},{"year":2025,"month":9,"date":16,"hours":6,"minutes":7,"utc":true}]}},
       "y": {"field": "rsi", "type": "quantitative", "scale": {"domain": [23.8, 73.3], "nice": false, "zero": false}},
       "y2": {"datum": 30}
     }},
    {"data": {"name": "bars"},
     "mark": {"type": "line", "color": "#fdd835", "strokeWidth": 1.2, "clip": true},
     "encoding": {
       "x": {"field": "t", "type": "temporal", "scale": {"type": "utc", "domain": [{"year":2025,"month":8,"date":22,"hours":18,"minutes":12,"utc":true},{"year":2025,"month":9,"date":16,"hours":6,"minutes":7,"utc":true}]}},
       "y": {"field": "rm", "type": "quantitative", "scale": {"domain": [23.8, 73.3], "nice": false, "zero": false}}
     }},
    {"data": {"name": "bars"},
     "mark": {"type": "line", "color": "#7e57c2", "strokeWidth": 1, "clip": true},
     "encoding": {
       "x": {"field": "t", "type": "temporal", "title": null, "scale": {"type": "utc", "domain": [{"year":2025,"month":8,"date":22,"hours":18,"minutes":12,"utc":true},{"year":2025,"month":9,"date":16,"hours":6,"minutes":7,"utc":true}]}, "axis": {"tickCount": {"interval": "day", "step": 1}, "grid": true, "labels": false, "ticks": false, "domain": true}},
       "y": {"field": "rsi", "type": "quantitative", "title": null, "scale": {"domain": [23.8, 73.3], "nice": false, "zero": false}, "axis": {"orient": "right", "values": [25, 50], "format": ".2f", "grid": false}}
     }},
    {"data": {"name": "rtags"},
     "mark": {"type": "tick", "orient": "horizontal", "size": 40, "thickness": 15.5, "opacity": 1},
     "encoding": {
       "x": {"datum": {"year":2025,"month":9,"date":16,"hours":20,"utc":true}, "type": "temporal", "scale": {"type": "utc", "domain": [{"year":2025,"month":8,"date":22,"hours":18,"minutes":12,"utc":true},{"year":2025,"month":9,"date":16,"hours":6,"minutes":7,"utc":true}]}},
       "y": {"field": "at", "type": "quantitative", "scale": {"domain": [23.8, 73.3], "nice": false, "zero": false}},
       "color": {"field": "s", "type": "nominal", "legend": null, "scale": {"domain": ["ma200","ema","fast","prev","last","sar","vma","vol","rsima","rsi","macd"], "range": ["#4dd0e1","#f57c00","#2962ff","#f48fb1","#f23645","#089981","#2962ff","#ef5350","#fdd835","#7e57c2","#b2dfdb"]}}
     }},
    {"data": {"name": "rtags"},
     "mark": {"type": "text", "fontSize": 9},
     "encoding": {
       "x": {"datum": {"year":2025,"month":9,"date":16,"hours":20,"utc":true}, "type": "temporal", "scale": {"type": "utc", "domain": [{"year":2025,"month":8,"date":22,"hours":18,"minutes":12,"utc":true},{"year":2025,"month":9,"date":16,"hours":6,"minutes":7,"utc":true}]}},
       "y": {"field": "at", "type": "quantitative", "scale": {"domain": [23.8, 73.3], "nice": false, "zero": false}},
       "text": {"field": "txt", "type": "nominal"},
       "color": {"condition": {"test": "indexof(['ma200','prev','rsima','macd'], datum.s) >= 0", "value": "#131722"}, "value": "#ffffff"}
     }}
  ]
},
{
  "width": 888, "height": 62,
  "layer": [
    {"data": {"values": [{}]},
     "mark": {"type": "rule", "color": "#9598a1", "strokeDash": [3, 3], "strokeWidth": 1},
     "encoding": {"y": {"datum": 0, "type": "quantitative", "scale": {"domain": [-0.0124, 0.0124], "nice": false}, "axis": null}}},
    {"data": {"name": "vlines"},
     "mark": {"type": "rule", "color": "#8a8d96", "strokeWidth": 1},
     "encoding": {"x": {"field": "t", "type": "temporal", "scale": {"type": "utc", "domain": [{"year":2025,"month":8,"date":22,"hours":18,"minutes":12,"utc":true},{"year":2025,"month":9,"date":16,"hours":6,"minutes":7,"utc":true}]}}}},
    {"data": {"name": "tge"},
     "mark": {"type": "rule", "color": "#f23645", "opacity": 0.5, "strokeWidth": 1.5},
     "encoding": {"x": {"field": "t", "type": "temporal", "scale": {"type": "utc", "domain": [{"year":2025,"month":8,"date":22,"hours":18,"minutes":12,"utc":true},{"year":2025,"month":9,"date":16,"hours":6,"minutes":7,"utc":true}]}}}},
    {"data": {"name": "bars"},
     "transform": [
       {"filter": "isValid(datum.m)"},
       {"window": [{"op": "lag", "field": "m", "as": "pm"}], "sort": [{"field": "t"}]}
     ],
     "mark": {"type": "bar", "size": 4.4},
     "encoding": {
       "x": {"field": "t", "type": "temporal", "title": null, "scale": {"type": "utc", "domain": [{"year":2025,"month":8,"date":22,"hours":18,"minutes":12,"utc":true},{"year":2025,"month":9,"date":16,"hours":6,"minutes":7,"utc":true}]}, "axis": {"tickCount": {"interval": "day", "step": 1}, "grid": true, "labels": false, "ticks": false, "domain": true}},
       "y": {"field": "m", "type": "quantitative", "scale": {"domain": [-0.0124, 0.0124], "nice": false}, "axis": null},
       "color": {"condition": [
         {"test": "datum.m >= 0 && isValid(datum.pm) && datum.m >= datum.pm", "value": "#26a69a"},
         {"test": "datum.m >= 0", "value": "#b2dfdb"},
         {"test": "isValid(datum.pm) && datum.m < datum.pm", "value": "#ff5252"}
       ], "value": "#ffcdd2"}
     }},
    {"data": {"name": "mtags"},
     "mark": {"type": "tick", "orient": "horizontal", "size": 40, "thickness": 15.5, "opacity": 1},
     "encoding": {
       "x": {"datum": {"year":2025,"month":9,"date":16,"hours":20,"utc":true}, "type": "temporal", "scale": {"type": "utc", "domain": [{"year":2025,"month":8,"date":22,"hours":18,"minutes":12,"utc":true},{"year":2025,"month":9,"date":16,"hours":6,"minutes":7,"utc":true}]}},
       "y": {"field": "at", "type": "quantitative", "scale": {"domain": [-0.0124, 0.0124], "nice": false}, "axis": null},
       "color": {"field": "s", "type": "nominal", "legend": null, "scale": {"domain": ["ma200","ema","fast","prev","last","sar","vma","vol","rsima","rsi","macd"], "range": ["#4dd0e1","#f57c00","#2962ff","#f48fb1","#f23645","#089981","#2962ff","#ef5350","#fdd835","#7e57c2","#b2dfdb"]}}
     }},
    {"data": {"name": "mtags"},
     "mark": {"type": "text", "fontSize": 9},
     "encoding": {
       "x": {"datum": {"year":2025,"month":9,"date":16,"hours":20,"utc":true}, "type": "temporal", "scale": {"type": "utc", "domain": [{"year":2025,"month":8,"date":22,"hours":18,"minutes":12,"utc":true},{"year":2025,"month":9,"date":16,"hours":6,"minutes":7,"utc":true}]}},
       "y": {"field": "at", "type": "quantitative", "scale": {"domain": [-0.0124, 0.0124], "nice": false}, "axis": null},
       "text": {"field": "txt", "type": "nominal"},
       "color": {"condition": {"test": "indexof(['ma200','prev','rsima','macd'], datum.s) >= 0", "value": "#131722"}, "value": "#ffffff"}
     }}
  ]
},
{
  "width": 888, "height": 30,
  "layer": [
    {"data": {"name": "days"},
     "mark": {"type": "text", "fontSize": 9, "color": "#131722"},
     "encoding": {
       "x": {"field": "t", "type": "temporal", "scale": {"type": "utc", "domain": [{"year":2025,"month":8,"date":22,"hours":18,"minutes":12,"utc":true},{"year":2025,"month":9,"date":16,"hours":6,"minutes":7,"utc":true}]}, "axis": null},
       "y": {"datum": 0.45, "type": "quantitative", "scale": {"domain": [0, 1]}, "axis": null},
       "text": {"field": "d", "type": "nominal"}
     }},
    {"data": {"name": "tge"},
     "mark": {"type": "bar", "size": 90, "color": "#f23645", "cornerRadius": 2},
     "encoding": {
       "x": {"field": "t", "type": "temporal", "scale": {"type": "utc", "domain": [{"year":2025,"month":8,"date":22,"hours":18,"minutes":12,"utc":true},{"year":2025,"month":9,"date":16,"hours":6,"minutes":7,"utc":true}]}, "axis": null},
       "y": {"datum": 0.07, "type": "quantitative", "scale": {"domain": [0, 1]}, "axis": null},
       "y2": {"datum": 0.93}
     }},
    {"data": {"name": "tge"},
     "mark": {"type": "text", "fontSize": 8, "color": "#ffffff"},
     "encoding": {
       "x": {"field": "t", "type": "temporal", "scale": {"type": "utc", "domain": [{"year":2025,"month":8,"date":22,"hours":18,"minutes":12,"utc":true},{"year":2025,"month":9,"date":16,"hours":6,"minutes":7,"utc":true}]}, "axis": null},
       "y": {"datum": 0.45, "type": "quantitative", "scale": {"domain": [0, 1]}, "axis": null},
       "text": {"field": "lab", "type": "nominal"}
     }},
    {"data": {"name": "vlines"},
     "mark": {"type": "bar", "size": 90, "color": "#131722", "cornerRadius": 2},
     "encoding": {
       "x": {"field": "t", "type": "temporal", "scale": {"type": "utc", "domain": [{"year":2025,"month":8,"date":22,"hours":18,"minutes":12,"utc":true},{"year":2025,"month":9,"date":16,"hours":6,"minutes":7,"utc":true}]}, "axis": null},
       "y": {"datum": 0.07, "type": "quantitative", "scale": {"domain": [0, 1]}, "axis": null},
       "y2": {"datum": 0.93}
     }},
    {"data": {"name": "vlines"},
     "mark": {"type": "text", "fontSize": 8, "color": "#ffffff"},
     "encoding": {
       "x": {"field": "t", "type": "temporal", "scale": {"type": "utc", "domain": [{"year":2025,"month":8,"date":22,"hours":18,"minutes":12,"utc":true},{"year":2025,"month":9,"date":16,"hours":6,"minutes":7,"utc":true}]}, "axis": null},
       "y": {"datum": 0.45, "type": "quantitative", "scale": {"domain": [0, 1]}, "axis": null},
       "text": {"field": "lab", "type": "nominal"}
     }}
  ]
}
]
}
